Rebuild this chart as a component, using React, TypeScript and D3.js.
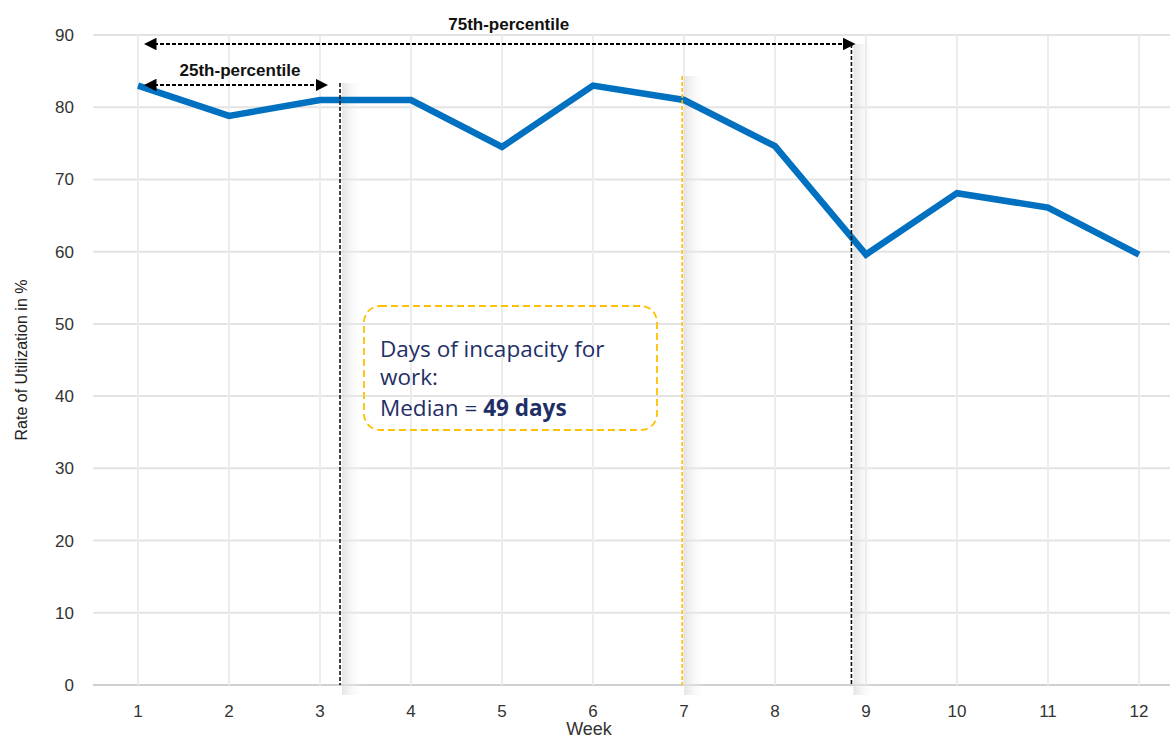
import React from "react";
import * as d3 from "d3";

const weeks = [1, 2, 3, 4, 5, 6, 7, 8, 9, 10, 11, 12];
const utilization = [83, 78.8, 81, 81, 74.5, 83, 81, 74.6, 59.6, 68.1, 66.1, 59.6];
const yTicks = [0, 10, 20, 30, 40, 50, 60, 70, 80, 90];
const percentileWeeks = { p25: 3.22, median: 6.98, p75: 8.84 };
const labels = {
  p25: "25th-percentile",
  p75: "75th-percentile",
  yTitle: "Rate of Utilization in %",
  xTitle: "Week",
  box1: "Days of incapacity for",
  box2: "work:",
  box3a: "Median = ",
  box3b: "49 days",
};

const W = 1170;
const H = 740;

export default function App() {
  const x = d3.scaleLinear().domain([1, 12]).range([138, 1139]);
  const y = d3.scaleLinear().domain([0, 90]).range([685, 35]);
  const line = d3
    .line<number>()
    .x((_, i) => x(weeks[i]))
    .y((d) => y(d));

  const font = "'Liberation Sans', Arial, sans-serif";
  const xl = x(percentileWeeks.p25);
  const xm = x(percentileWeeks.median);
  const xr = x(percentileWeeks.p75);
  const arrowStart = x(1) + 12;

  const shadow = (xx: number, top: number, key: string) => (
    <rect key={key} x={xx + 2} y={top} width={22} height={y(0) - top + 10} fill="url(#shadowGrad)" />
  );

  return (
    <svg
      width={W}
      height={H}
      style={{ position: "absolute", left: 0, top: 0, background: "#fff" }}
      fontFamily={font}
    >
      <defs>
        <linearGradient id="shadowGrad" x1="0" x2="1" y1="0" y2="0">
          <stop offset="0%" stopColor="#dcdcdc" stopOpacity={0.75} />
          <stop offset="100%" stopColor="#ffffff" stopOpacity={0} />
        </linearGradient>
        <marker id="arrowL" viewBox="0 0 10 10" refX="2" refY="5" markerWidth="7" markerHeight="7" orient="auto-start-reverse">
          <path d="M0,0 L10,5 L0,10 z" fill="#000" />
        </marker>
      </defs>

      {/* horizontal gridlines */}
      {yTicks.map((t) => (
        <line key={"h" + t} x1={93} x2={W} y1={y(t)} y2={y(t)} stroke={t === 0 ? "#d0d0d0" : "#e3e3e3"} strokeWidth={2} />
      ))}
      {/* vertical gridlines */}
      {weeks.map((w) => (
        <line key={"v" + w} x1={x(w)} x2={x(w)} y1={y(90)} y2={y(0)} stroke="#ececec" strokeWidth={2} />
      ))}

      {/* shadows */}
      {shadow(xl, 83, "s1")}
      {shadow(xm, 76, "s2")}
      {shadow(xr, 44, "s3")}

      {/* y tick labels */}
      {yTicks.map((t) => (
        <text key={"yt" + t} x={74} y={y(t)} dy="0.35em" textAnchor="end" fontSize={17} fill="#333">
          {t}
        </text>
      ))}
      {/* x tick labels */}
      {weeks.map((w) => (
        <text key={"xt" + w} x={x(w)} y={711} dy="0.35em" textAnchor="middle" fontSize={17} fill="#333">
          {w}
        </text>
      ))}
      <text x={589} y={735} textAnchor="middle" fontSize={18} fill="#333">
        {labels.xTitle}
      </text>
      <text transform={`translate(27,${y(45)}) rotate(-90)`} textAnchor="middle" fontSize={16} fill="#222">
        {labels.yTitle}
      </text>

      {/* data line */}
      <path d={line(utilization) || ""} fill="none" stroke="#0070C0" strokeWidth={6.5} strokeLinejoin="miter" />

      {/* vertical percentile lines */}
      <line x1={xl} x2={xl} y1={83} y2={y(0)} stroke="#111" strokeWidth={1.6} strokeDasharray="4,2" />
      <line x1={xm} x2={xm} y1={76} y2={y(0)} stroke="#FFC000" strokeWidth={1.6} strokeDasharray="4,2" />
      <line x1={xr} x2={xr} y1={44} y2={y(0)} stroke="#111" strokeWidth={1.6} strokeDasharray="4,2" />

      {/* arrows */}
      <line
        x1={arrowStart + 4}
        x2={xr - 6}
        y1={44}
        y2={44}
        stroke="#000"
        strokeWidth={1.8}
        strokeDasharray="4,2"
        markerStart="url(#arrowL)"
        markerEnd="url(#arrowL)"
      />
      <text x={(arrowStart + xr) / 2 + 8} y={30} textAnchor="middle" fontSize={17} fontWeight="bold" fill="#111">
        {labels.p75}
      </text>
      <line
        x1={arrowStart + 4}
        x2={xl - 22}
        y1={85}
        y2={85}
        stroke="#000"
        strokeWidth={1.8}
        strokeDasharray="4,2"
        markerStart="url(#arrowL)"
        markerEnd="url(#arrowL)"
      />
      <text x={240} y={76} textAnchor="middle" fontSize={17} fontWeight="bold" fill="#111">
        {labels.p25}
      </text>

      {/* annotation box */}
      <rect x={364} y={306} width={293} height={124} rx={16} fill="none" stroke="#FFC000" strokeWidth={1.8} strokeDasharray="7,4" />
      <g fontFamily="'Open Sans', 'Noto Sans', sans-serif" fontSize={22.5} fill="#1F2F66">
        <text x={380} y={357}>{labels.box1}</text>
        <text x={380} y={385}>{labels.box2}</text>
        <text x={380} y={416}>
          {labels.box3a}
          <tspan fontWeight="bold">{labels.box3b}</tspan>
        </text>
      </g>
    </svg>
  );
}
